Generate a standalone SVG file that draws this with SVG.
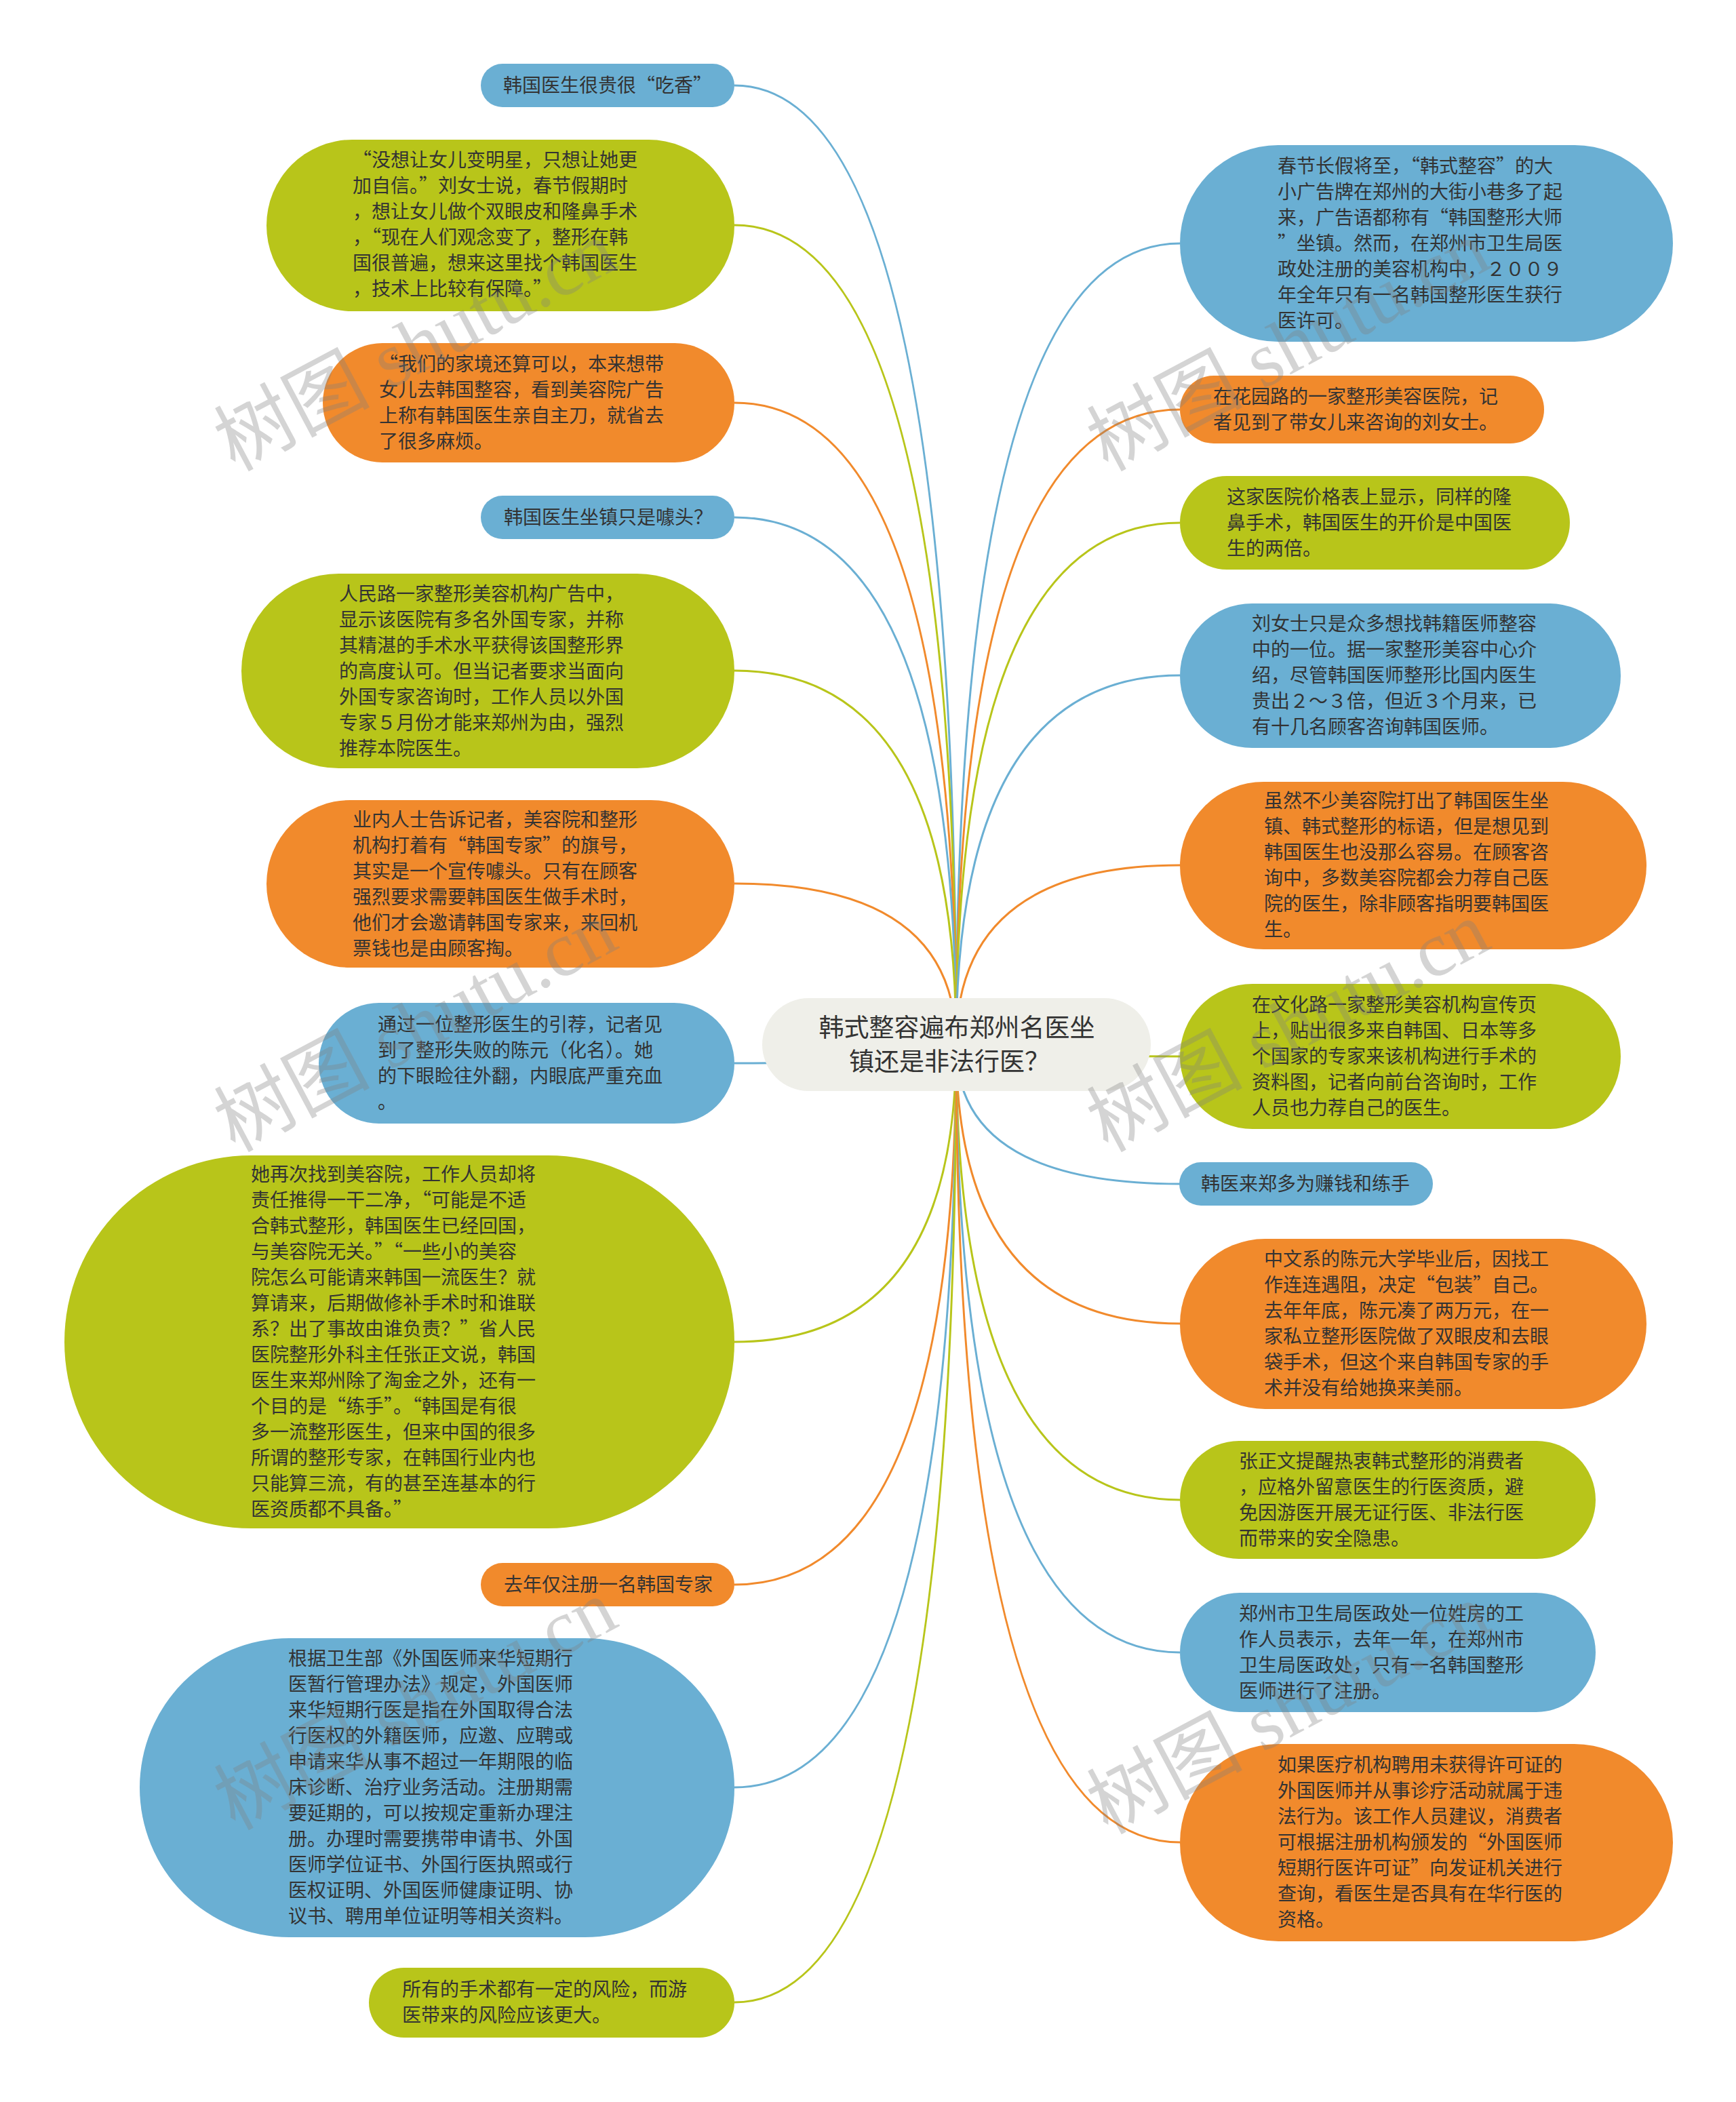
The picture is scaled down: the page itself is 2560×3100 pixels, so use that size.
<svg xmlns="http://www.w3.org/2000/svg" width="2560" height="3100" viewBox="0 0 2560 3100">
<style>
.t{font-family:"Noto Sans CJK SC","Microsoft YaHei",sans-serif;font-size:28px;fill:#333333}
.rt{font-family:"Noto Sans CJK SC","Microsoft YaHei",sans-serif;font-size:37px;fill:#333333;text-anchor:middle}
.blue{fill:#6aafd3}
.green{fill:#b8c51a}
.orange{fill:#f18a2c}
.root{fill:#efefe9}
.cb{stroke:#6aafd3}
.cg{stroke:#b8c51a}
.co{stroke:#f18a2c}
#connectors path{fill:none;stroke-width:3}
.wm{font-family:"Liberation Serif","Noto Sans CJK SC",serif;font-size:115px;fill:#808080;opacity:0.33}
</style>
<rect width="2560" height="3100" fill="#ffffff"/>
<g id="connectors">
<path class="cb" d="M1410 1541 Q1410 126 1083 126"/>
<path class="cg" d="M1410 1541 Q1410 332 1083 332"/>
<path class="co" d="M1410 1541 Q1410 594 1083 594"/>
<path class="cb" d="M1410 1541 Q1410 763 1083 763"/>
<path class="cg" d="M1410 1541 Q1410 989 1083 989"/>
<path class="co" d="M1410 1541 Q1410 1303 1083 1303"/>
<path class="cb" d="M1410 1541 Q1410 1568 1083 1568"/>
<path class="cg" d="M1410 1541 Q1410 1979 1083 1979"/>
<path class="co" d="M1410 1541 Q1410 2337 1083 2337"/>
<path class="cb" d="M1410 1541 Q1410 2636 1083 2636"/>
<path class="cg" d="M1410 1541 Q1410 2953 1083 2953"/>
<path class="cb" d="M1410 1541 Q1410 359 1740 359"/>
<path class="co" d="M1410 1541 Q1410 604 1740 604"/>
<path class="cg" d="M1410 1541 Q1410 771 1740 771"/>
<path class="cb" d="M1410 1541 Q1410 996 1740 996"/>
<path class="co" d="M1410 1541 Q1410 1276 1740 1276"/>
<path class="cg" d="M1410 1541 Q1410 1558 1740 1558"/>
<path class="cb" d="M1410 1541 Q1410 1746 1740 1746"/>
<path class="co" d="M1410 1541 Q1410 1952 1740 1952"/>
<path class="cg" d="M1410 1541 Q1410 2212 1740 2212"/>
<path class="cb" d="M1410 1541 Q1410 2437 1740 2437"/>
<path class="co" d="M1410 1541 Q1410 2717 1740 2717"/>
</g>
<g id="root">
<rect class="root" x="1124" y="1472" width="573" height="137" rx="68.5"/>
<text class="rt"><tspan x="1411" y="1529">韩式整容遍布郑州名医坐</tspan><tspan x="1400" y="1579">镇还是非法行医？</tspan></text>
</g>
<g id="L1">
<rect class="blue" x="709" y="94" width="374" height="64" rx="32"/>
<text class="t"><tspan x="742" y="136">韩国医生很贵很“吃香”</tspan></text>
</g>
<g id="L2">
<rect class="green" x="393" y="206" width="690" height="253" rx="126.5"/>
<text class="t"><tspan x="520" y="246">“没想让女儿变明星，只想让她更</tspan><tspan x="520" y="284">加自信。”刘女士说，春节假期时</tspan><tspan x="520" y="322">，想让女儿做个双眼皮和隆鼻手术</tspan><tspan x="520" y="360">，“现在人们观念变了，整形在韩</tspan><tspan x="520" y="398">国很普遍，想来这里找个韩国医生</tspan><tspan x="520" y="436">，技术上比较有保障。”</tspan></text>
</g>
<g id="L3">
<rect class="orange" x="476" y="506" width="607" height="176" rx="88"/>
<text class="t"><tspan x="559" y="547">“我们的家境还算可以，本来想带</tspan><tspan x="559" y="585">女儿去韩国整容，看到美容院广告</tspan><tspan x="559" y="623">上称有韩国医生亲自主刀，就省去</tspan><tspan x="559" y="661">了很多麻烦。</tspan></text>
</g>
<g id="L4">
<rect class="blue" x="709" y="731" width="374" height="64" rx="32"/>
<text class="t"><tspan x="743" y="773">韩国医生坐镇只是噱头？</tspan></text>
</g>
<g id="L5">
<rect class="green" x="356" y="846" width="727" height="287" rx="143.5"/>
<text class="t"><tspan x="500" y="886">人民路一家整形美容机构广告中，</tspan><tspan x="500" y="924">显示该医院有多名外国专家，并称</tspan><tspan x="500" y="962">其精湛的手术水平获得该国整形界</tspan><tspan x="500" y="1000">的高度认可。但当记者要求当面向</tspan><tspan x="500" y="1038">外国专家咨询时，工作人员以外国</tspan><tspan x="500" y="1076">专家５月份才能来郑州为由，强烈</tspan><tspan x="500" y="1114">推荐本院医生。</tspan></text>
</g>
<g id="L6">
<rect class="orange" x="393" y="1180" width="690" height="247" rx="123.5"/>
<text class="t"><tspan x="520" y="1219">业内人士告诉记者，美容院和整形</tspan><tspan x="520" y="1257">机构打着有“韩国专家”的旗号，</tspan><tspan x="520" y="1295">其实是一个宣传噱头。只有在顾客</tspan><tspan x="520" y="1333">强烈要求需要韩国医生做手术时，</tspan><tspan x="520" y="1371">他们才会邀请韩国专家来，来回机</tspan><tspan x="520" y="1409">票钱也是由顾客掏。</tspan></text>
</g>
<g id="L7">
<rect class="blue" x="470" y="1479" width="613" height="178" rx="89"/>
<text class="t"><tspan x="557" y="1521">通过一位整形医生的引荐，记者见</tspan><tspan x="557" y="1559">到了整形失败的陈元（化名）。她</tspan><tspan x="557" y="1597">的下眼睑往外翻，内眼底严重充血</tspan><tspan x="557" y="1635">。</tspan></text>
</g>
<g id="L8">
<rect class="green" x="95" y="1704" width="988" height="550" rx="275"/>
<text class="t"><tspan x="370" y="1742">她再次找到美容院，工作人员却将</tspan><tspan x="370" y="1780">责任推得一干二净，“可能是不适</tspan><tspan x="370" y="1818">合韩式整形，韩国医生已经回国，</tspan><tspan x="370" y="1856">与美容院无关。”“一些小的美容</tspan><tspan x="370" y="1894">院怎么可能请来韩国一流医生？就</tspan><tspan x="370" y="1932">算请来，后期做修补手术时和谁联</tspan><tspan x="370" y="1970">系？出了事故由谁负责？”省人民</tspan><tspan x="370" y="2008">医院整形外科主任张正文说，韩国</tspan><tspan x="370" y="2046">医生来郑州除了淘金之外，还有一</tspan><tspan x="370" y="2084">个目的是“练手”。“韩国是有很</tspan><tspan x="370" y="2122">多一流整形医生，但来中国的很多</tspan><tspan x="370" y="2160">所谓的整形专家，在韩国行业内也</tspan><tspan x="370" y="2198">只能算三流，有的甚至连基本的行</tspan><tspan x="370" y="2236">医资质都不具备。”</tspan></text>
</g>
<g id="L9">
<rect class="orange" x="709" y="2305" width="374" height="64" rx="32"/>
<text class="t"><tspan x="743" y="2347">去年仅注册一名韩国专家</tspan></text>
</g>
<g id="L10">
<rect class="blue" x="206" y="2416" width="877" height="441" rx="220.5"/>
<text class="t"><tspan x="425" y="2456">根据卫生部《外国医师来华短期行</tspan><tspan x="425" y="2494">医暂行管理办法》规定，外国医师</tspan><tspan x="425" y="2532">来华短期行医是指在外国取得合法</tspan><tspan x="425" y="2570">行医权的外籍医师，应邀、应聘或</tspan><tspan x="425" y="2608">申请来华从事不超过一年期限的临</tspan><tspan x="425" y="2646">床诊断、治疗业务活动。注册期需</tspan><tspan x="425" y="2684">要延期的，可以按规定重新办理注</tspan><tspan x="425" y="2722">册。办理时需要携带申请书、外国</tspan><tspan x="425" y="2760">医师学位证书、外国行医执照或行</tspan><tspan x="425" y="2798">医权证明、外国医师健康证明、协</tspan><tspan x="425" y="2836">议书、聘用单位证明等相关资料。</tspan></text>
</g>
<g id="L11">
<rect class="green" x="544" y="2902" width="539" height="103" rx="51.5"/>
<text class="t"><tspan x="593" y="2944">所有的手术都有一定的风险，而游</tspan><tspan x="593" y="2982">医带来的风险应该更大。</tspan></text>
</g>
<g id="R1">
<rect class="blue" x="1740" y="214" width="727" height="290" rx="145"/>
<text class="t"><tspan x="1884" y="255">春节长假将至，“韩式整容”的大</tspan><tspan x="1884" y="293">小广告牌在郑州的大街小巷多了起</tspan><tspan x="1884" y="331">来，广告语都称有“韩国整形大师</tspan><tspan x="1884" y="369">”坐镇。然而，在郑州市卫生局医</tspan><tspan x="1884" y="407">政处注册的美容机构中，２００９</tspan><tspan x="1884" y="445">年全年只有一名韩国整形医生获行</tspan><tspan x="1884" y="483">医许可。</tspan></text>
</g>
<g id="R2">
<rect class="orange" x="1740" y="554" width="537" height="100" rx="50"/>
<text class="t"><tspan x="1789" y="595">在花园路的一家整形美容医院，记</tspan><tspan x="1789" y="633">者见到了带女儿来咨询的刘女士。</tspan></text>
</g>
<g id="R3">
<rect class="green" x="1740" y="702" width="575" height="138" rx="69"/>
<text class="t"><tspan x="1809" y="743">这家医院价格表上显示，同样的隆</tspan><tspan x="1809" y="781">鼻手术，韩国医生的开价是中国医</tspan><tspan x="1809" y="819">生的两倍。</tspan></text>
</g>
<g id="R4">
<rect class="blue" x="1740" y="890" width="650" height="213" rx="106.5"/>
<text class="t"><tspan x="1846" y="930">刘女士只是众多想找韩籍医师整容</tspan><tspan x="1846" y="968">中的一位。据一家整形美容中心介</tspan><tspan x="1846" y="1006">绍，尽管韩国医师整形比国内医生</tspan><tspan x="1846" y="1044">贵出２～３倍，但近３个月来，已</tspan><tspan x="1846" y="1082">有十几名顾客咨询韩国医师。</tspan></text>
</g>
<g id="R5">
<rect class="orange" x="1740" y="1153" width="688" height="247" rx="123.5"/>
<text class="t"><tspan x="1864" y="1191">虽然不少美容院打出了韩国医生坐</tspan><tspan x="1864" y="1229">镇、韩式整形的标语，但是想见到</tspan><tspan x="1864" y="1267">韩国医生也没那么容易。在顾客咨</tspan><tspan x="1864" y="1305">询中，多数美容院都会力荐自己医</tspan><tspan x="1864" y="1343">院的医生，除非顾客指明要韩国医</tspan><tspan x="1864" y="1381">生。</tspan></text>
</g>
<g id="R6">
<rect class="green" x="1740" y="1451" width="650" height="214" rx="107"/>
<text class="t"><tspan x="1846" y="1492">在文化路一家整形美容机构宣传页</tspan><tspan x="1846" y="1530">上，贴出很多来自韩国、日本等多</tspan><tspan x="1846" y="1568">个国家的专家来该机构进行手术的</tspan><tspan x="1846" y="1606">资料图，记者向前台咨询时，工作</tspan><tspan x="1846" y="1644">人员也力荐自己的医生。</tspan></text>
</g>
<g id="R7">
<rect class="blue" x="1739" y="1714" width="374" height="64" rx="32"/>
<text class="t"><tspan x="1771" y="1756">韩医来郑多为赚钱和练手</tspan></text>
</g>
<g id="R8">
<rect class="orange" x="1740" y="1827" width="688" height="251" rx="125.5"/>
<text class="t"><tspan x="1864" y="1867">中文系的陈元大学毕业后，因找工</tspan><tspan x="1864" y="1905">作连连遇阻，决定“包装”自己。</tspan><tspan x="1864" y="1943">去年年底，陈元凑了两万元，在一</tspan><tspan x="1864" y="1981">家私立整形医院做了双眼皮和去眼</tspan><tspan x="1864" y="2019">袋手术，但这个来自韩国专家的手</tspan><tspan x="1864" y="2057">术并没有给她换来美丽。</tspan></text>
</g>
<g id="R9">
<rect class="green" x="1740" y="2125" width="613" height="174" rx="87"/>
<text class="t"><tspan x="1827" y="2165">张正文提醒热衷韩式整形的消费者</tspan><tspan x="1827" y="2203">，应格外留意医生的行医资质，避</tspan><tspan x="1827" y="2241">免因游医开展无证行医、非法行医</tspan><tspan x="1827" y="2279">而带来的安全隐患。</tspan></text>
</g>
<g id="R10">
<rect class="blue" x="1740" y="2349" width="613" height="176" rx="88"/>
<text class="t"><tspan x="1827" y="2390">郑州市卫生局医政处一位姓房的工</tspan><tspan x="1827" y="2428">作人员表示，去年一年，在郑州市</tspan><tspan x="1827" y="2466">卫生局医政处，只有一名韩国整形</tspan><tspan x="1827" y="2504">医师进行了注册。</tspan></text>
</g>
<g id="R11">
<rect class="orange" x="1740" y="2572" width="727" height="291" rx="145.5"/>
<text class="t"><tspan x="1884" y="2613">如果医疗机构聘用未获得许可证的</tspan><tspan x="1884" y="2651">外国医师并从事诊疗活动就属于违</tspan><tspan x="1884" y="2689">法行为。该工作人员建议，消费者</tspan><tspan x="1884" y="2727">可根据注册机构颁发的“外国医师</tspan><tspan x="1884" y="2765">短期行医许可证”向发证机关进行</tspan><tspan x="1884" y="2803">查询，看医生是否具有在华行医的</tspan><tspan x="1884" y="2841">资格。</tspan></text>
</g>
<g id="watermarks">
<text class="wm" transform="translate(346 696) rotate(-28)">树图 shutu.cn</text>
<text class="wm" transform="translate(1633 696) rotate(-28)">树图 shutu.cn</text>
<text class="wm" transform="translate(346 1700) rotate(-28)">树图 shutu.cn</text>
<text class="wm" transform="translate(1633 1700) rotate(-28)">树图 shutu.cn</text>
<text class="wm" transform="translate(346 2700) rotate(-28)">树图 shutu.cn</text>
<text class="wm" transform="translate(1633 2706) rotate(-28)">树图 shutu.cn</text>
</g>
</svg>
